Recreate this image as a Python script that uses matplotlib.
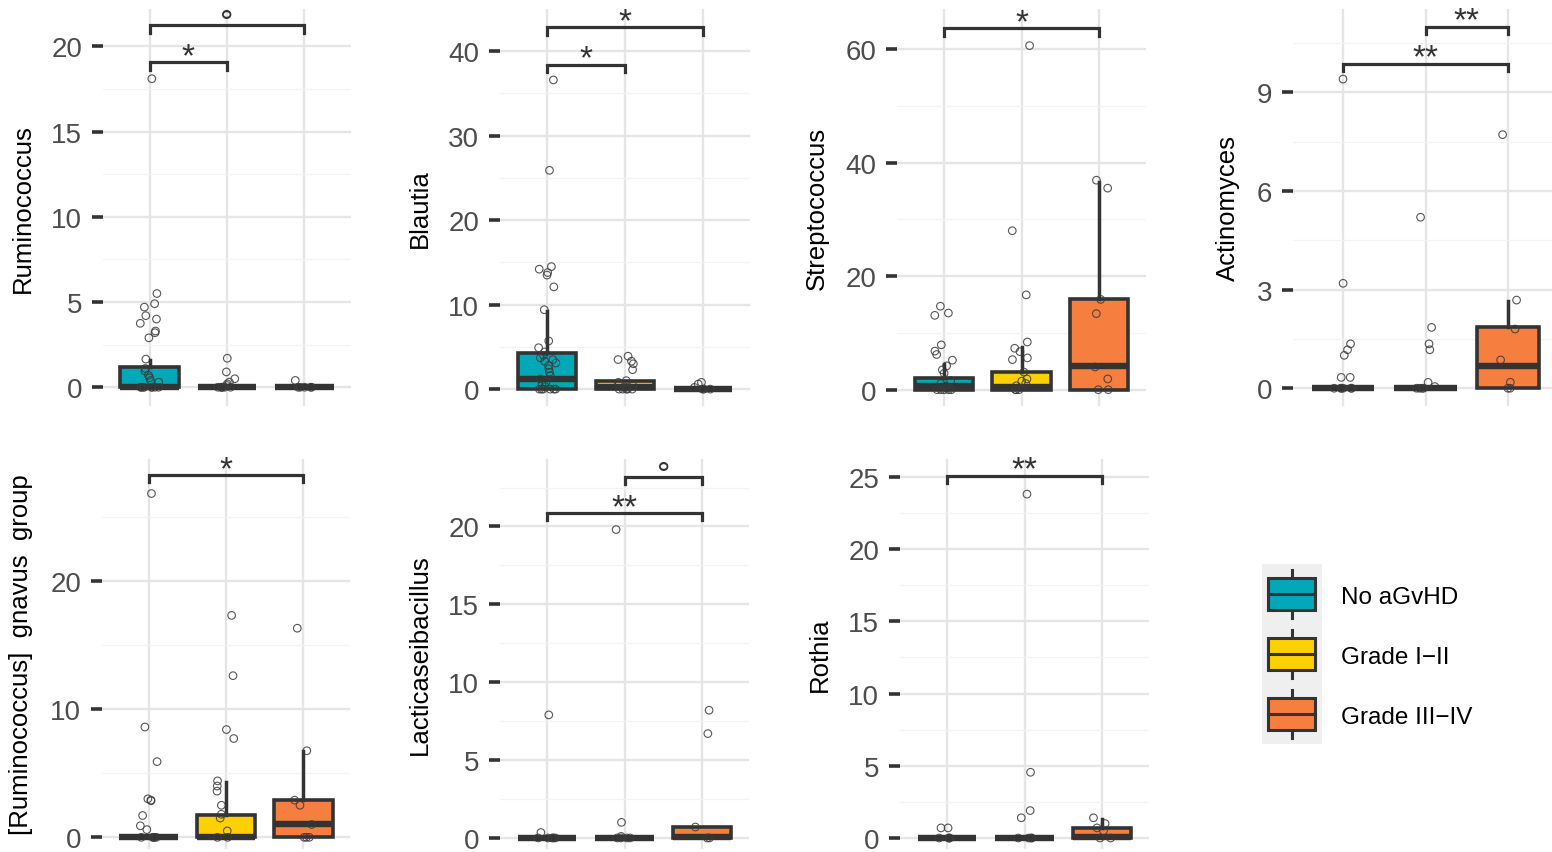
import numpy as np
import matplotlib
matplotlib.use("Agg")
import matplotlib.pyplot as plt
from matplotlib.patches import Rectangle

plt.rcParams['font.family'] = ['Liberation Sans', 'DejaVu Sans']

W, H = 1552, 853
groups = ['No aGvHD', 'Grade I\u2212II', 'Grade III\u2212IV']
colors = ['#00A8B8', '#FDD000', '#F67F3F']
dark = '#333333'

# box stats per group: (whislo, q1, med, q3, whishi)
rum_box = [(0, 0, 0, 1.17, 1.6), (0, 0, 0, 0, 0), (0, 0, 0, 0, 0)]
rum_pts = [[18.1, 5.5, 4.9, 4.7, 4.2, 4.0, 3.75, 3.3, 3.2, 2.9, 1.65, 1.1, 0.95, 0.7, 0.55, 0.4, 0.3, 0, 0, 0, 0, 0, 0, 0, 0],
           [1.7, 0.9, 0.5, 0.3, 0.2, 0.1, 0, 0, 0, 0, 0, 0],
           [0.4, 0, 0, 0, 0, 0]]
rum_sig = [(1, 2, 19.06, '*'), (1, 3, 21.25, '\u00b0')]

bla_box = [(0, 0, 1.2, 4.3, 9.3), (0, 0, 0.3, 1.0, 1.0), (0, 0, 0, 0, 0)]
bla_pts = [[36.6, 25.9, 14.5, 14.2, 13.8, 13.5, 12.1, 9.4, 5.7, 4.9, 4.4, 4.0, 3.7, 3.5, 3.3, 3.1, 2.8, 2.4, 2.0, 1.6,
            1.2, 0.8, 0.5, 0.3, 0, 0, 0, 0, 0, 0],
           [3.9, 3.5, 3.3, 3.0, 2.3, 1.0, 0.8, 0.6, 0.4, 0.2, 0, 0, 0, 0, 0],
           [0.8, 0.6, 0.2, 0, 0, 0]]
bla_sig = [(1, 2, 38.4, '*'), (1, 3, 42.85, '*')]

strep_box = [(0, 0, 0.7, 2.1, 4.5), (0, 0, 0.4, 3.2, 7.5), (0, 0, 4.2, 16.0, 36.6)]
strep_pts = [[14.7, 13.5, 13.1, 7.9, 6.8, 6.2, 5.2, 4.2, 3.5, 2.9, 1.6, 1.1, 0.6, 0.3, 0, 0, 0, 0, 0],
             [60.6, 28.0, 16.7, 8.4, 7.3, 6.7, 5.6, 5.3, 3.1, 1.9, 1.5, 1.1, 0.7, 0, 0, 0],
             [36.9, 35.5, 15.9, 13.4, 4.0, 1.9, 0, 0]]
strep_sig = [(1, 3, 63.65, '*')]

act_box = [(0, 0, 0, 0, 0), (0, 0, 0, 0, 0), (0, 0, 0.69, 1.85, 2.66)]
act_pts = [[9.4, 3.19, 1.35, 1.17, 1.0, 0.33, 0.33, 0, 0, 0, 0, 0, 0],
           [5.2, 1.85, 1.35, 1.17, 0.18, 0.05, 0, 0, 0, 0],
           [7.71, 2.68, 1.8, 0.86, 0.18, 0, 0]]
act_sig = [(2, 3, 10.99, '**'), (1, 3, 9.86, '**')]

gna_box = [(0, 0, 0, 0, 0), (0, 0, 0, 1.76, 4.3), (0, 0, 1.04, 2.9, 6.75)]
gna_pts = [[26.8, 8.6, 5.9, 3.0, 2.9, 2.85, 1.7, 0.9, 0.6, 0, 0, 0, 0, 0],
           [17.3, 12.6, 8.4, 7.7, 4.4, 4.0, 3.6, 2.5, 1.8, 1.5, 0.5, 0, 0],
           [16.3, 6.75, 2.9, 2.5, 1.0, 0, 0, 0]]
gna_sig = [(1, 3, 28.24, '*')]

lac_box = [(0, 0, 0, 0, 0), (0, 0, 0, 0, 0), (0, 0, 0.05, 0.69, 0.69)]
lac_pts = [[7.9, 0.35, 0, 0, 0, 0, 0],
           [19.8, 1.0, 0.1, 0, 0, 0, 0],
           [8.2, 6.7, 0.7, 0, 0]]
lac_sig = [(2, 3, 23.2, '\u00b0'), (1, 3, 20.86, '**')]

rot_box = [(0, 0, 0, 0, 0), (0, 0, 0, 0, 0), (0, 0, 0.1, 0.67, 1.3)]
rot_pts = [[0.7, 0.7, 0, 0, 0, 0],
           [23.8, 4.55, 1.9, 1.4, 0, 0, 0, 0],
           [1.4, 1.0, 0.7, 0.5, 0, 0]]
rot_sig = [(1, 3, 25.07, '**')]

panels = [
    # label, boxes, points, sigs, ylim, tick step, pixel rect (l, t, r, b)
    ('Ruminococcus', rum_box, rum_pts, rum_sig, (-1.1, 22.19), 5, (103, 10, 351, 407)),
    ('Blautia', bla_box, bla_pts, bla_sig, (-2.0, 45.0), 10, (500, 10, 750, 407)),
    ('Streptococcus', strep_box, strep_pts, strep_sig, (-2.87, 67.05), 20, (897, 10, 1146, 407)),
    ('Actinomyces', act_box, act_pts, act_sig, (-0.54, 11.53), 3, (1293, 10, 1558, 407)),
    ('[Ruminococcus]  gnavus  group', gna_box, gna_pts, gna_sig, (-0.91, 29.49), 10, (102, 460, 350, 850)),
    ('Lacticaseibacillus', lac_box, lac_pts, lac_sig, (-0.71, 24.33), 5, (500, 460, 749, 850)),
    ('Rothia', rot_box, rot_pts, rot_sig, (-0.76, 26.23), 5, (900, 460, 1149, 850)),
]

fig = plt.figure(figsize=(W / 100, H / 100), dpi=100)
rng = np.random.default_rng(7)

for label, boxes, pts, sigs, ylim, step, (l, t, r, b) in panels:
    ax = fig.add_axes([l / W, (H - b) / H, (r - l) / W, (b - t) / H])

    stats = [dict(whislo=bx[0], q1=bx[1], med=bx[2], q3=bx[3], whishi=bx[4]) for bx in boxes]
    bp = ax.bxp(stats, positions=[1, 2, 3], widths=0.75, patch_artist=True,
                showfliers=False, showcaps=False, manage_ticks=False,
                boxprops=dict(edgecolor=dark, linewidth=2.6),
                whiskerprops=dict(color=dark, linewidth=2.5),
                medianprops=dict(color=dark, linewidth=4.6, solid_capstyle='butt'))
    for patch, c in zip(bp['boxes'], colors):
        patch.set_facecolor(c)

    for i, vals in enumerate(pts):
        vals = np.array(vals, dtype=float)
        xs = (i + 1) + rng.uniform(-0.12, 0.12, len(vals))
        ax.scatter(xs, vals, s=30, facecolors='none', edgecolors='#3A3A3A',
                   linewidths=0.8, alpha=0.85, zorder=5)

    ax.set_xlim(0.4, 3.6)
    ax.set_ylim(*ylim)
    for s in ax.spines.values():
        s.set_visible(False)
    ax.set_yticks(np.arange(0, ylim[1], step))
    ax.set_yticks(np.arange(step / 2, ylim[1], step), minor=True)
    ax.set_xticks([1, 2, 3])
    ax.set_xticklabels([])
    ax.tick_params(axis='x', length=0, labelbottom=False)
    ax.tick_params(axis='y', which='major', length=8, width=2.6, color=dark,
                   labelsize=20, labelcolor='#4D4D4D', pad=7)
    ax.tick_params(axis='y', which='minor', length=0)
    ax.grid(True, which='major', color='#E5E5E5', lw=1.7)
    ax.grid(True, which='minor', axis='y', color='#F3F3F3', lw=0.9)
    ax.set_axisbelow(True)
    ax.set_ylabel(label, fontsize=18.5, color='black', labelpad=12)

    tip = 0.019 * (ylim[1] - ylim[0])
    for x1, x2, y, txt in sigs:
        ax.plot([x1, x1, x2, x2], [y - tip, y, y, y - tip], color=dark, lw=2.3,
                solid_joinstyle='miter', zorder=6, clip_on=False)
        off = -5 if txt == '\u00b0' else -2
        ax.annotate(txt, ((x1 + x2) / 2, y), xytext=(0, off), textcoords='offset points',
                    ha='center', va='baseline', fontsize=24, color=dark,
                    annotation_clip=False)

# legend drawn in pixel space
lg = fig.add_axes([0, 0, 1, 1])
lg.set_xlim(0, W)
lg.set_ylim(H, 0)
lg.axis('off')
lg.add_patch(Rectangle((1262, 565), 60, 180, facecolor='#EFEFEF', edgecolor='none', zorder=1))
for k, (name, c) in enumerate(zip(groups, colors)):
    cy = 595 + 60 * k
    lg.plot([1292, 1292], [cy - 24, cy + 24], color=dark, lw=2.2, zorder=2)
    lg.add_patch(Rectangle((1268, cy - 16), 47, 32, facecolor=c, edgecolor=dark, lw=2.2, zorder=3))
    lg.plot([1268, 1315], [cy, cy], color=dark, lw=2.2, zorder=4)
    lg.text(1341, cy + 3, name, fontsize=17.5, va='center', ha='left', color='black')

fig.savefig('out.png', dpi=100)
